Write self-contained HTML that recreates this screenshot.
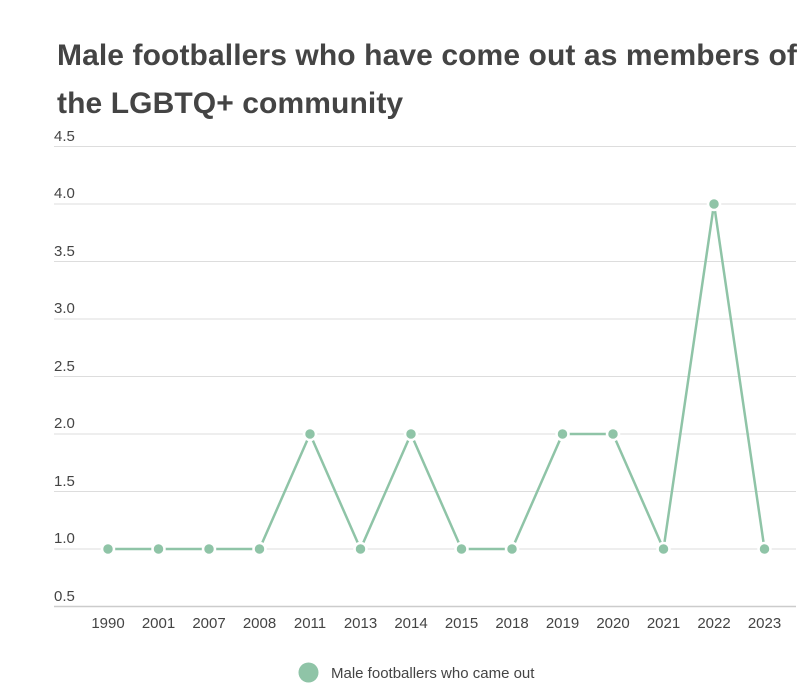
<!DOCTYPE html>
<html><head><style>
body{margin:0;background:#fff;width:812px;height:690px;overflow:hidden;font-family:"Liberation Sans",sans-serif}
h1{position:absolute;left:57px;top:32px;margin:0;font-size:30px;line-height:48px;font-weight:bold;color:#444;width:760px;letter-spacing:0.1px;white-space:nowrap}
</style></head><body>
<h1>Male footballers who have come out as members of<br>the LGBTQ+ community</h1>
<svg width="812" height="690" style="position:absolute;left:0;top:0">
<g stroke="#ddd" stroke-width="1">
<line x1="54" x2="796" y1="146.5" y2="146.5"/><line x1="54" x2="796" y1="204" y2="204"/>
<line x1="54" x2="796" y1="261.5" y2="261.5"/><line x1="54" x2="796" y1="319" y2="319"/>
<line x1="54" x2="796" y1="376.5" y2="376.5"/><line x1="54" x2="796" y1="434" y2="434"/>
<line x1="54" x2="796" y1="491.5" y2="491.5"/><line x1="54" x2="796" y1="549" y2="549"/>
</g>
<line x1="54" x2="796" y1="606.5" y2="606.5" stroke="#ccc" stroke-width="1.5"/>
<g font-size="15" fill="#444">
<text x="54" y="141">4.5</text><text x="54" y="198">4.0</text><text x="54" y="256">3.5</text>
<text x="54" y="313">3.0</text><text x="54" y="371">2.5</text><text x="54" y="428">2.0</text>
<text x="54" y="486">1.5</text><text x="54" y="543">1.0</text><text x="54" y="601">0.5</text>
</g>
<g font-size="15" fill="#444" text-anchor="middle">
<text x="108" y="628">1990</text><text x="158.5" y="628">2001</text><text x="209" y="628">2007</text>
<text x="259.5" y="628">2008</text><text x="310" y="628">2011</text><text x="360.5" y="628">2013</text>
<text x="411" y="628">2014</text><text x="461.5" y="628">2015</text><text x="512" y="628">2018</text>
<text x="562.5" y="628">2019</text><text x="613" y="628">2020</text><text x="663.5" y="628">2021</text>
<text x="714" y="628">2022</text><text x="764.5" y="628">2023</text>
</g>
<polyline fill="none" stroke="#8fc4a7" stroke-width="2.5" points="108,549 158.5,549 209,549 259.5,549 310,434 360.5,549 411,434 461.5,549 512,549 562.5,434 613,434 663.5,549 714,204 764.5,549"/>
<g fill="#8fc4a7" stroke="#fff" stroke-width="2.5">
<circle cx="108" cy="549" r="6"/><circle cx="158.5" cy="549" r="6"/><circle cx="209" cy="549" r="6"/>
<circle cx="259.5" cy="549" r="6"/><circle cx="310" cy="434" r="6"/><circle cx="360.5" cy="549" r="6"/>
<circle cx="411" cy="434" r="6"/><circle cx="461.5" cy="549" r="6"/><circle cx="512" cy="549" r="6"/>
<circle cx="562.5" cy="434" r="6"/><circle cx="613" cy="434" r="6"/><circle cx="663.5" cy="549" r="6"/>
<circle cx="714" cy="204" r="6"/><circle cx="764.5" cy="549" r="6"/>
</g>
<circle cx="308.5" cy="672.5" r="10" fill="#8fc4a7"/>
<text x="331" y="678" font-size="15" fill="#444">Male footballers who came out</text>
</svg>
</body></html>
